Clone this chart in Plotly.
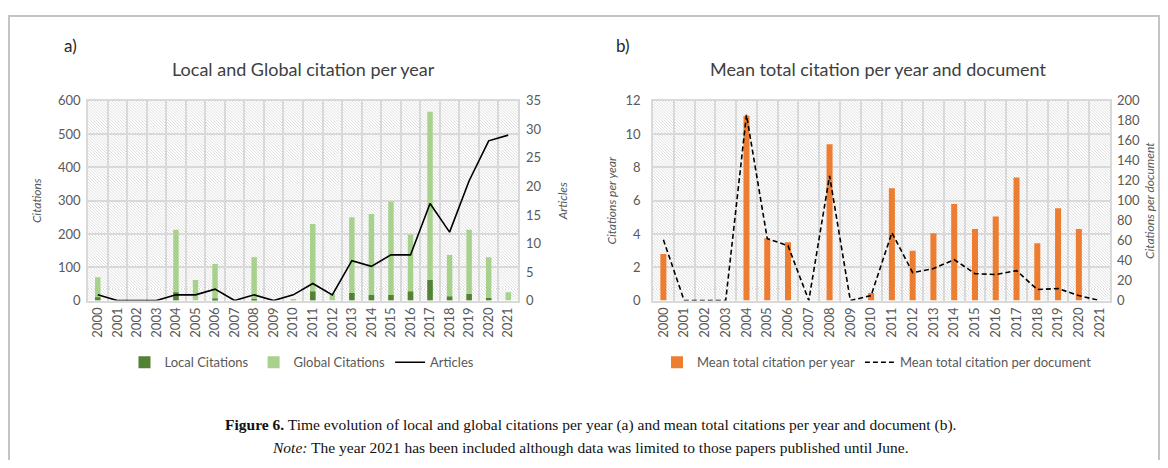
import base64
import plotly.graph_objects as go

# ---------------- data ----------------
years = [str(y) for y in range(2000, 2022)]
global_citations = [70, 0, 0, 0, 213, 62, 110, 0, 130, 0, 3, 230, 20, 250, 260, 298, 198, 567, 137, 213, 130, 25]
local_citations = [10, 0, 0, 0, 25, 0, 6, 0, 5, 0, 0, 27, 0, 23, 17, 17, 27, 62, 12, 20, 8, 0]
articles = [1, 0, 0, 0, 1, 1, 2, 0, 1, 0, 1, 3, 1, 7, 6, 8, 8, 17, 12, 21, 28, 29]
mean_per_year = [2.8, 0, 0, 0, 11.1, 3.75, 3.5, 0, 9.4, 0, 0.45, 6.75, 3.0, 4.05, 5.8, 4.3, 5.05, 7.4, 3.45, 5.55, 4.3, 0]
mean_per_doc = [61, 0, 0, 0, 186, 62, 55, 0, 125, 0, 5, 68, 28, 32, 41, 27, 26, 30, 11, 12, 5, 0]

# page has an 8px body margin: figure fills the window minus that margin
OFF = 8
W, H = 1168 - 2 * OFF, 468 - 2 * OFF
L1, R1 = 88, 518
L2, R2 = 653, 1110
TOP, BOT = 96, 303

def px(x):
    return (x - OFF) / W

def py(y):
    return 1 - (y - OFF) / H

def hatch_svg(w, h):
    svg = (
        f'<svg xmlns="http://www.w3.org/2000/svg" width="{w}" height="{h}">'
        '<defs><pattern id="p" patternUnits="userSpaceOnUse" width="3" height="3">'
        '<rect width="3" height="3" fill="#ffffff"/>'
        '<path d="M-1,-1 L4,4 M-1,2 L1,4 M2,-1 L4,1" stroke="#d4d4d4" stroke-width="0.8"/>'
        '</pattern></defs>'
        f'<rect width="{w}" height="{h}" fill="url(#p)"/></svg>'
    )
    return "data:image/svg+xml;base64," + base64.b64encode(svg.encode()).decode()

GRID = "#d9d9d9"
TICKC = "#595959"
TXT = "#404040"
FONT = "Lato"

fig = go.Figure()

# ---- chart a ----
fig.add_trace(go.Bar(x=years, y=global_citations, name="Global Citations",
                     marker=dict(color="#a9d18e", line=dict(width=0)), width=0.28,
                     xaxis="x", yaxis="y", legend="legend", legendrank=2))
fig.add_trace(go.Bar(x=years, y=local_citations, name="Local Citations",
                     marker=dict(color="#548235", line=dict(width=0)), width=0.28,
                     xaxis="x", yaxis="y", legend="legend", legendrank=1))
fig.add_trace(go.Scatter(x=years, y=articles, name="Articles", mode="lines",
                         line=dict(color="#000000", width=1.6),
                         xaxis="x", yaxis="y2", legend="legend", legendrank=3))

# ---- chart b ----
fig.add_trace(go.Bar(x=years, y=mean_per_year, name="Mean total citation per year",
                     marker=dict(color="#ed7d31", line=dict(width=0)), width=0.29,
                     xaxis="x2", yaxis="y3", legend="legend2", legendrank=1))
fig.add_trace(go.Scatter(x=years, y=mean_per_doc, name="Mean total citation per document",
                         mode="lines", line=dict(color="#000000", width=1.6, dash="5px,3px"),
                         xaxis="x2", yaxis="y4", legend="legend2", legendrank=2))

tickfont = dict(family=FONT, size=13, color=TICKC)
xcommon = dict(type="category", tickson="boundaries", showgrid=True, gridcolor=GRID,
               gridwidth=1.5, tickangle=-90, ticks="", tickfont=tickfont,
               showline=True, linecolor=GRID, linewidth=1.5, mirror=True, fixedrange=True)
ycommon = dict(showgrid=True, gridcolor=GRID, gridwidth=1.5, ticks="", tickfont=tickfont,
               showline=True, linecolor=GRID, linewidth=1.5, mirror=True, zeroline=False)
ysec = dict(showgrid=False, ticks="", tickfont=tickfont, zeroline=False, showline=False)

ydom = [py(BOT), py(TOP)]
ttl = dict(family=FONT, size=12, color=TICKC)

fig.update_layout(
    width=W, height=H,
    margin=dict(l=0, r=0, t=0, b=0),
    paper_bgcolor="#ffffff",
    plot_bgcolor="rgba(0,0,0,0)",
    barmode="overlay",
    font=dict(family=FONT, color=TXT),
    xaxis=dict(domain=[px(L1), px(R1)], anchor="y", **xcommon),
    yaxis=dict(domain=ydom, anchor="x", range=[0, 600], dtick=100, ticklabelstandoff=3,
               title=dict(text="<i>Citations</i>", font=ttl, standoff=14), **ycommon),
    yaxis2=dict(overlaying="y", side="right", anchor="x", range=[0, 35], dtick=5,
                ticklabelstandoff=7,
                title=dict(text="<i>Articles</i>", font=ttl, standoff=18), **ysec),
    xaxis2=dict(domain=[px(L2), px(R2)], anchor="y3", **xcommon),
    yaxis3=dict(domain=ydom, anchor="x2", range=[0, 12], dtick=2, ticklabelstandoff=8,
                title=dict(text="<i>Citations per year</i>", font=ttl, standoff=6), **ycommon),
    yaxis4=dict(overlaying="y3", side="right", anchor="x2", range=[0, 200], dtick=20,
                ticklabelstandoff=6,
                title=dict(text="<i>Citations per document</i>", font=ttl, standoff=6), **ysec),
    legend=dict(orientation="h", x=px(302), xanchor="center", y=py(367), yanchor="middle",
                font=dict(family=FONT, size=13, color=TICKC), bgcolor="rgba(0,0,0,0)",
                itemwidth=30, tracegroupgap=0),
    legend2=dict(orientation="h", x=px(877), xanchor="center", y=py(367), yanchor="middle",
                 font=dict(family=FONT, size=13, color=TICKC), bgcolor="rgba(0,0,0,0)",
                 itemwidth=30, tracegroupgap=0),
    showlegend=True,
    images=[
        dict(source=hatch_svg(R1 - L1, BOT - TOP), xref="x domain", yref="y domain",
             x=0, y=1, sizex=1, sizey=1, xanchor="left", yanchor="top",
             sizing="stretch", layer="below"),
        dict(source=hatch_svg(R2 - L2, BOT - TOP), xref="x2 domain", yref="y3 domain",
             x=0, y=1, sizex=1, sizey=1, xanchor="left", yanchor="top",
             sizing="stretch", layer="below"),
    ],
    shapes=[
        dict(type="rect", xref="paper", yref="paper", x0=px(9), x1=px(1159),
             y0=-0.05, y1=py(8), line=dict(color="#c4c4c4", width=2), layer="below"),
    ],
    annotations=[
        dict(text="a)", xref="paper", yref="paper", x=px(62), y=py(39), xanchor="left",
             yanchor="middle", showarrow=False, font=dict(family=FONT, size=17, color="#262626")),
        dict(text="b)", xref="paper", yref="paper", x=px(614), y=py(39), xanchor="left",
             yanchor="middle", showarrow=False, font=dict(family=FONT, size=17, color="#262626")),
        dict(text="Local and Global citation per year", xref="paper", yref="paper",
             x=px(303), y=py(63), xanchor="center", yanchor="middle", showarrow=False,
             font=dict(family=FONT, size=18, color=TXT)),
        dict(text="Mean total citation per year and document", xref="paper", yref="paper",
             x=px(878), y=py(63), xanchor="center", yanchor="middle", showarrow=False,
             font=dict(family=FONT, size=18, color=TXT)),
        dict(text="<b>Figure 6.</b> Time evolution of local and global citations per year (a) and mean total citations per year and document (b).",
             xref="paper", yref="paper", x=px(590), y=py(432), xanchor="center", yanchor="middle",
             showarrow=False, font=dict(family="Liberation Serif", size=15.5, color="#111111")),
        dict(text="<i>Note:</i> The year 2021 has been included although data was limited to those papers published until June.",
             xref="paper", yref="paper", x=px(590), y=py(455), xanchor="center", yanchor="middle",
             showarrow=False, font=dict(family="Liberation Serif", size=15.5, color="#111111")),
    ],
)

fig.write_html("out.html")
